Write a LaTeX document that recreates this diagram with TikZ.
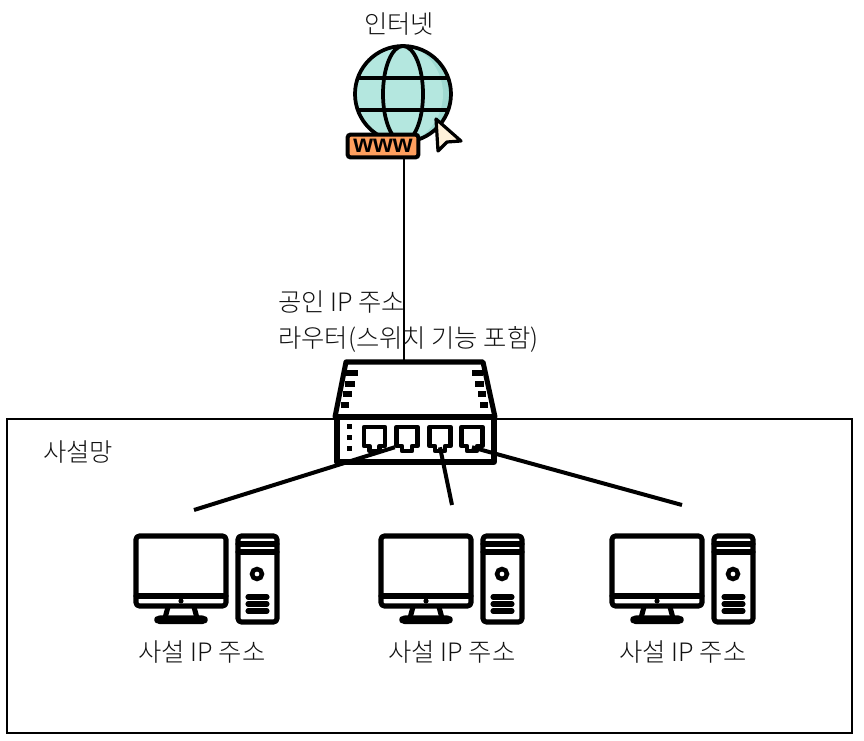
\documentclass[tikz,border=0pt]{standalone}
\usepackage{fontspec}
\setmainfont{Noto Sans CJK KR Light}
\newfontfamily\wwwfont{Liberation Sans}
\definecolor{globeteal}{HTML}{B4E7DF}
\definecolor{globeshade}{HTML}{9FDAD2}
\definecolor{badgeorange}{HTML}{FF9F5E}
\definecolor{cursorcream}{HTML}{FFF1DA}
\definecolor{labelgrey}{HTML}{111111}
\tikzset{
    label text/.style={font=\fontsize{19}{22}\selectfont, text=labelgrey, inner sep=0pt},
    thick line/.style={line width=3.8pt, line cap=round, line join=round},
    tick line/.style={line width=3.8pt},
    port box/.style={minimum width=18pt, minimum height=15pt, inner sep=0pt},
    port/.pic={
        \draw[line width=3.6pt, line join=round, fill=white] (-10.5,-10) -- (10.5,-10) -- (10.5,9) -- (5,9) -- (5,14) -- (-5,14) -- (-5,9) -- (-10.5,9) -- cycle;
    },
    computer/.pic={
        % monitor
        \draw[thick line, rounded corners=2.5pt] (2,2) rectangle (92,72);
        \draw[thick line] (2,62) -- (92,62);
        \fill (47,67) circle (2.6);
        \draw[thick line] (34,73) -- (31,84) (60,73) -- (63,84);
        \draw[thick line, rounded corners=2pt] (23,84) rectangle (71,87.5);
        % tower
        \draw[thick line, rounded corners=2.5pt] (104,2) rectangle (143,88);
        \draw[thick line] (104,10) -- (143,10) (104,18) -- (143,18);
        \draw[line width=3.4pt] (123,40) circle (5);
        \draw[thick line] (114,63) -- (133,63) (114,70) -- (133,70) (114,77) -- (133,77);
    }
}

\begin{document}
\begin{tikzpicture}[x=0.75pt, y=-0.75pt]
    \useasboundingbox (0,0) rectangle (864,741);

    % Private network area
    \draw[line width=1pt] (7,419) rectangle (852,733);

    % Globe
    \begin{scope}
        \clip (403,94) circle (49);
        \fill[globeshade] (403,94) circle (49);
        \fill[globeteal] (391,94) circle (52);
    \end{scope}
    \draw[line width=2.8pt] (403,94) circle (48);
    \draw[line width=2.8pt] (403,94) ellipse (20 and 48);
    \draw[line width=2.8pt] (358,78) -- (448,78);
    \draw[line width=2.8pt] (358,110) -- (448,110);

    % Cursor
    \draw[line width=2.4pt, line join=round, fill=cursorcream] (436,119) -- (461,141) -- (447,142) -- (438,151) -- cycle;

    % Draw nodes
    \node[draw, line width=3pt, fill=badgeorange, rounded corners=2pt, minimum width=53pt, minimum height=17pt, inner sep=0pt, font=\wwwfont\bfseries\fontsize{19}{19}\selectfont] (www) at (383,146) {www};
    \coordinate (uplink) at (404,362);

    % Router
    \draw[thick line, fill=white] (346,362) -- (483,362) -- (495,417) -- (335,417) -- cycle;
    \draw[thick line, fill=white] (337,417) rectangle (494,462);
    \draw[line width=4.6pt] (335,417) -- (495,417);
    \draw[tick line] (346,373) -- (358,373) (345,384) -- (355,384) (343,394) -- (352,394) (341,405) -- (349,405);
    \draw[tick line] (483,373) -- (472,373) (484,384) -- (475,384) (486,394) -- (478,394) (488,405) -- (480,405);
    \fill (346.5,424.5) rectangle (351.5,429.5);
    \fill (346.5,435.5) rectangle (351.5,440.5);
    \fill (346.5,446.5) rectangle (351.5,451.5);
    \node[port box] (port1) at (374.5,437) {};
    \node[port box] (port2) at (407,437) {};
    \node[port box] (port3) at (440,437) {};
    \node[port box] (port4) at (472,437) {};
    \pic at (port1) {port};
    \pic at (port2) {port};
    \pic at (port3) {port};
    \pic at (port4) {port};

    % Computers
    \pic at (134,534) {computer};
    \pic at (379,534) {computer};
    \pic at (610,534) {computer};
    \coordinate (pc1) at (194,510);
    \coordinate (pc2) at (452,505);
    \coordinate (pc3) at (682,505);

    % Draw connections
    \draw[line width=1pt] (www.south -| uplink) -- (uplink);
    \draw[line width=3pt] (pc1) -- (port2.south west);
    \draw[line width=3pt] (pc2) -- (port3.south);
    \draw[line width=3pt] (pc3) -- (port4.south);

    % Labels
    \node[label text] (internet) at (399,24) {인터넷};
    \node[label text, anchor=west] (public) at (278,302) {공인 IP 주소};
    \node[label text, anchor=west] (router) at (278,339) {라우터(스위치 기능 포함)};
    \node[label text, anchor=west] (private) at (43,452) {사설망};
    \node[label text] (ip1) at (202,652) {사설 IP 주소};
    \node[label text] (ip2) at (452,652) {사설 IP 주소};
    \node[label text] (ip3) at (683,652) {사설 IP 주소};
\end{tikzpicture}
\end{document}
